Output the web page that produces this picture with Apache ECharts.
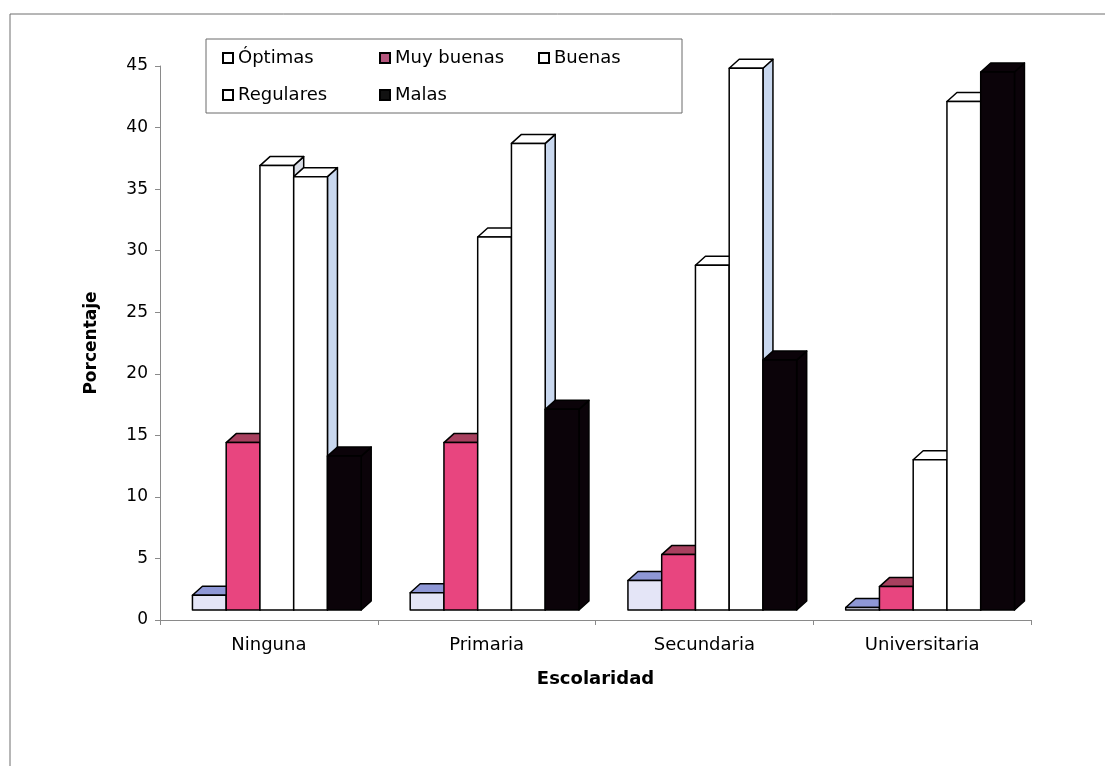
<!DOCTYPE html>
<html>
<head>
<meta charset="utf-8">
<script src="https://cdn.jsdelivr.net/npm/echarts@6/dist/echarts.min.js"></script>
<style>
  html, body { margin: 0; padding: 0; background: #ffffff; }
  #chart { width: 1105px; height: 766px; }
</style>
</head>
<body>
<div id="chart"></div>
<script>
// ---- Data ----
const categories = ['Ninguna', 'Primaria', 'Secundaria', 'Universitaria'];
const seriesNames = ['Óptimas', 'Muy buenas', 'Buenas', 'Regulares', 'Malas'];
const optimas    = [1.2, 1.4, 2.4, 0.2];
const muyBuenas  = [13.6, 13.6, 4.5, 1.9];
const buenas     = [36.1, 30.3, 28.0, 12.2];
const regulares  = [35.2, 37.9, 44.0, 41.3];
const malas      = [12.5, 16.3, 20.3, 43.7];
const yTicks = { min: 0, max: 45, interval: 5 };

const seriesValues = [optimas, muyBuenas, buenas, regulares, malas];

// ---- Styles (3D faces) ----
const faceStyles = [
  { front: '#e4e5f7', top: '#8e97d6', side: '#b8bde8', legend: '#ffffff' },
  { front: '#e8457f', top: '#a8405f', side: '#b83a66', legend: '#b4557c' },
  { front: '#ffffff', top: '#ffffff', side: '#d9dde6', legend: '#ffffff' },
  { front: '#ffffff', top: '#ffffff', side: '#c9d8ef', legend: '#ffffff' },
  { front: '#0b0309', top: '#0b0309', side: '#0b0309', legend: '#111111' }
];

function renderItem(params, api) {
  const cat = api.value(0);
  const v = api.value(1);
  const topPt = api.coord([cat, v]);
  const basePt = api.coord([cat, 0]);
  const catW = api.size([1, 0])[0];
  const w = catW * 0.155;
  const x0 = topPt[0] - catW * 0.351 + params.seriesIndex * w;
  const lift = 10, dx = 10, dy = 9;
  const yb = basePt[1] - lift;
  const yt = topPt[1] - lift;
  const st = faceStyles[params.seriesIndex];
  const stroke = { stroke: '#000000', lineWidth: 1.5, lineJoin: 'round' };
  return {
    type: 'group',
    children: [
      { type: 'polygon',
        shape: { points: [[x0 + w, yt], [x0 + w + dx, yt - dy], [x0 + w + dx, yb - dy], [x0 + w, yb]] },
        style: Object.assign({ fill: st.side }, stroke) },
      { type: 'polygon',
        shape: { points: [[x0, yt], [x0 + dx, yt - dy], [x0 + w + dx, yt - dy], [x0 + w, yt]] },
        style: Object.assign({ fill: st.top }, stroke) },
      { type: 'rect',
        shape: { x: x0, y: yt, width: w, height: yb - yt },
        style: Object.assign({ fill: st.front }, stroke) }
    ]
  };
}

const series = seriesNames.map((name, i) => ({
  name: name,
  type: 'custom',
  renderItem: renderItem,
  itemStyle: { color: faceStyles[i].legend, borderColor: '#000', borderWidth: 1.5 },
  encode: { x: 0, y: 1 },
  data: seriesValues[i].map((v, j) => [j, v]),
  z: 2 + i
}));

// legend item positions (one legend component per item)
const legendPos = [
  { left: 222, top: 49 },
  { left: 379, top: 49 },
  { left: 538, top: 49 },
  { left: 222, top: 86 },
  { left: 379, top: 86 }
];
const legends = seriesNames.map((name, i) => ({
  data: [{ name: name, itemStyle: { color: faceStyles[i].legend, borderColor: '#000', borderWidth: 2 } }],
  left: legendPos[i].left,
  top: legendPos[i].top,
  padding: 0,
  icon: 'rect',
  itemWidth: 10,
  itemHeight: 10,
  itemGap: 5,
  selectedMode: false,
  textStyle: { fontFamily: 'DejaVu Sans', fontSize: 18, color: '#000', padding: [0, 0, 0, 0] }
}));

const chart = echarts.init(document.getElementById('chart'), null, { renderer: 'canvas' });
chart.setOption({
  backgroundColor: '#ffffff',
  animation: false,
  graphic: [
    { type: 'line', shape: { x1: 10, y1: 14, x2: 1105, y2: 14 }, style: { stroke: '#6f6f6f', lineWidth: 1 }, silent: true },
    { type: 'line', shape: { x1: 10, y1: 14, x2: 10, y2: 766 }, style: { stroke: '#6f6f6f', lineWidth: 1 }, silent: true },
    { type: 'rect', shape: { x: 206, y: 39, width: 476, height: 74 }, style: { fill: '#ffffff', stroke: '#6a6a6a', lineWidth: 1 }, z: 0, silent: true }
  ],
  legend: legends,
  grid: { left: 160, right: 74, top: 66, bottom: 146, containLabel: false },
  xAxis: {
    type: 'category',
    data: categories,
    boundaryGap: true,
    name: 'Escolaridad',
    nameLocation: 'middle',
    nameGap: 50,
    nameTextStyle: { fontFamily: 'DejaVu Sans', fontSize: 18, fontWeight: 'bold', color: '#000' },
    axisLine: { show: true, lineStyle: { color: '#8a8a8a', width: 1 } },
    axisTick: { show: true, alignWithLabel: false, length: 5, lineStyle: { color: '#8a8a8a' } },
    axisLabel: { margin: 16, fontFamily: 'DejaVu Sans', fontSize: 18, color: '#000' },
    splitLine: { show: false }
  },
  yAxis: {
    type: 'value',
    min: yTicks.min,
    max: yTicks.max,
    interval: yTicks.interval,
    name: 'Porcentaje',
    nameLocation: 'middle',
    nameGap: 60,
    nameTextStyle: { fontFamily: 'DejaVu Sans', fontSize: 17, fontWeight: 'bold', color: '#000' },
    axisLine: { show: true, lineStyle: { color: '#8a8a8a', width: 1 } },
    axisTick: { show: true, length: 5, lineStyle: { color: '#8a8a8a' } },
    axisLabel: { margin: 12, fontFamily: 'DejaVu Sans', fontSize: 17, color: '#000' },
    splitLine: { show: false }
  },
  series: series
});
</script>
</body>
</html>
